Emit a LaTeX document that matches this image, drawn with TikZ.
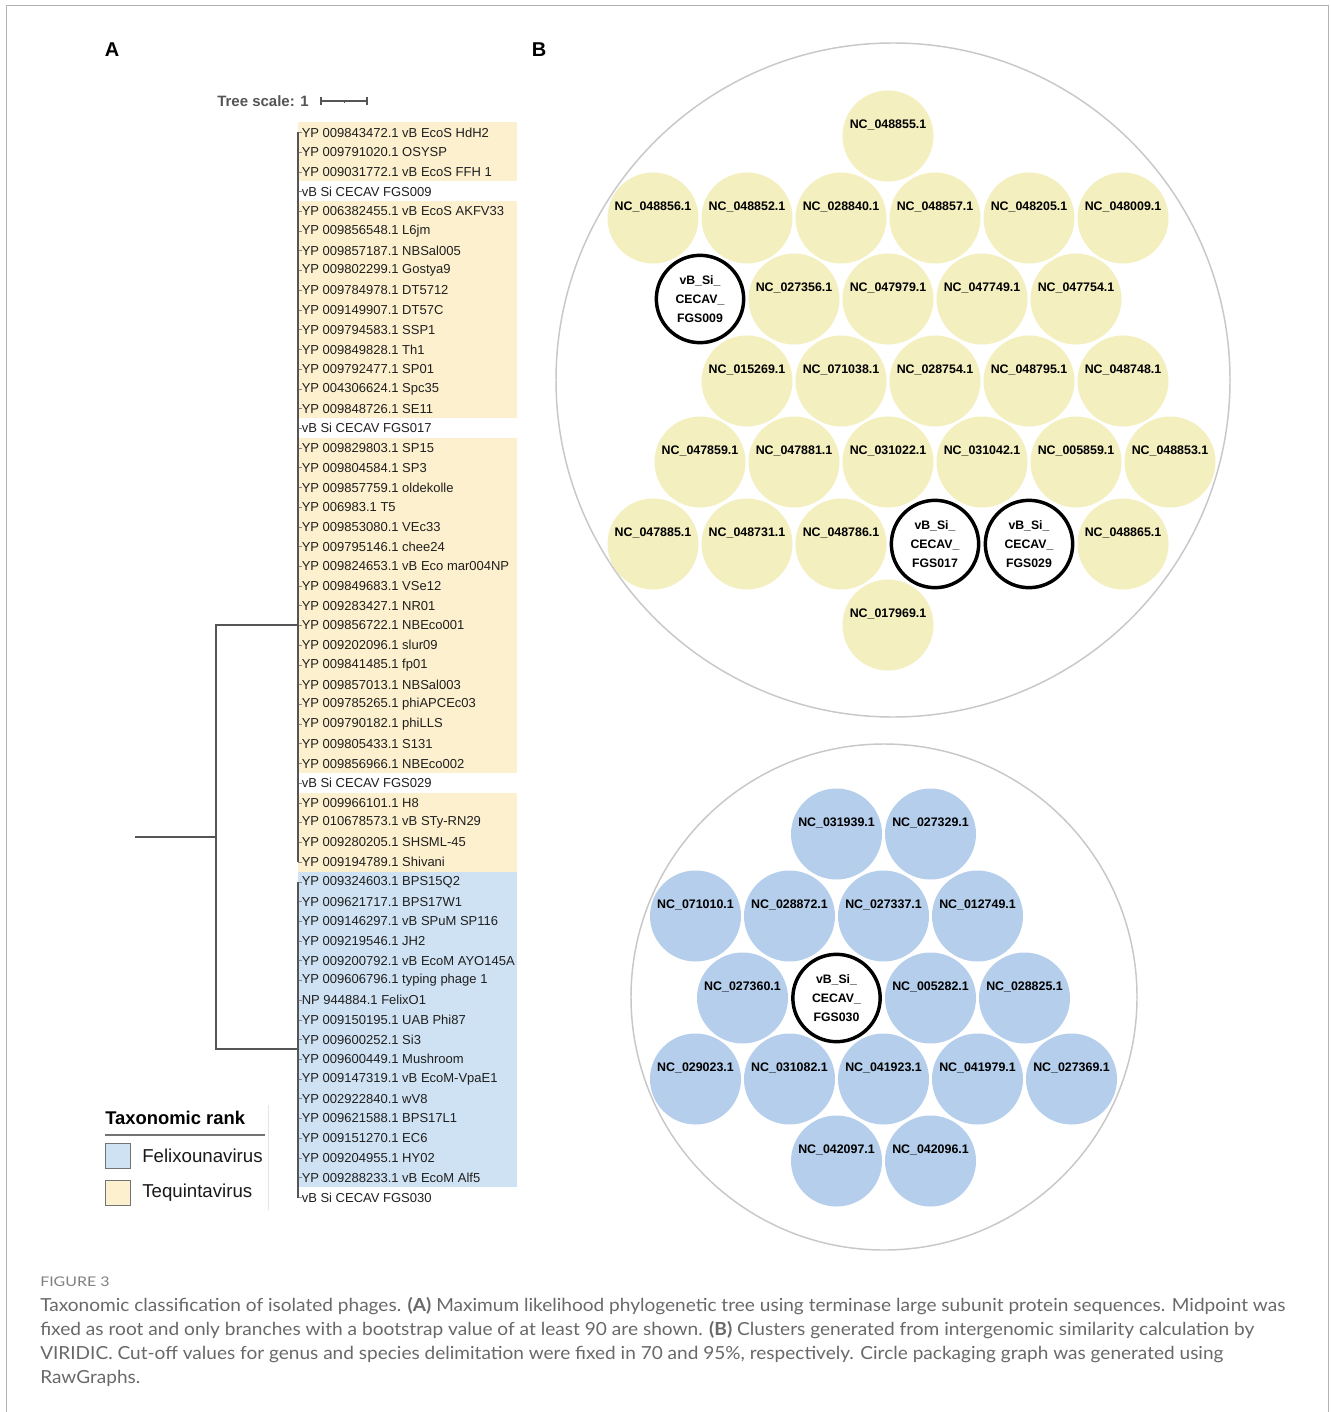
\documentclass[tikz,border=0pt]{standalone}
\usepackage{fontspec}
\usepackage{graphicx}
\setmainfont{Liberation Sans}
\newfontfamily\capfont{Lato}
\definecolor{teqband}{RGB}{253,240,206}
\definecolor{felband}{RGB}{207,226,243}
\definecolor{ycol}{RGB}{243,239,191}
\definecolor{bcol}{RGB}{180,206,236}
\definecolor{treecol}{RGB}{85,85,85}
\definecolor{framecol}{RGB}{178,178,178}
\definecolor{bigcol}{RGB}{200,200,200}
\definecolor{capcol}{RGB}{105,105,105}
\tikzset{
  leaf/.style={anchor=west, inner sep=0pt, font=\fontsize{9.75}{11}\selectfont, text=black!88},
  tree/.style={draw=treecol, line width=0.9pt},
  ycirc/.style={circle, fill=ycol, minimum size=68.25pt, inner sep=0pt},
  bcirc/.style={circle, fill=bcol, minimum size=68.25pt, inner sep=0pt},
  hcirc/.style={circle, fill=white, draw=black, line width=2.6pt, minimum size=65.5pt, inner sep=0pt},
  nclab/.style={inner sep=0pt, font=\bfseries\fontsize{9.3}{11}\selectfont},
  hlab/.style={inner sep=0pt, align=center, font=\bfseries\fontsize{9.2}{14.25}\selectfont},
  bigc/.style={draw=bigcol, line width=1.1pt},
  panel/.style={inner sep=0pt, font=\bfseries\fontsize{15}{18}\selectfont},
  capline/.style={anchor=base west, inner sep=0pt, text=capcol, font=\capfont\fontsize{13.5}{16}\selectfont},
  legtext/.style={anchor=west, inner sep=0pt, font=\fontsize{14}{16}\selectfont, text=black!90},
  legbox/.style={draw=black!55, line width=0.5pt}
}
\newcommand\yc[4]{\node[ycirc] (#1) at (#2,#3) {}; \node[nclab] (#1t) at (#2,#3-11) {NC\_#4.1};}
\newcommand\bc[4]{\node[bcirc] (#1) at (#2,#3) {}; \node[nclab] (#1t) at (#2,#3-11) {NC\_#4.1};}
\newcommand\hc[4]{\node[hcirc] (#1) at (#2,#3) {}; \node[hlab] (#1t) at (#2,#3+0.5) {vB\_Si\_\\CECAV\_\\#4};}
\begin{document}
\begin{tikzpicture}[x=0.75pt,y=-0.75pt]
\useasboundingbox (0,0) rectangle (1330,1412);
\fill[white] (0,0) rectangle (1330,1412);
% frame
\draw[framecol, line width=1.1pt] (6.5,1412) -- (6.5,5.5) -- (1328.5,5.5) -- (1328.5,1412);

% panel labels
\node[panel] (pA) at (112,50) {A};
\node[panel] (pB) at (539,50) {B};

% tree scale
\node[inner sep=0pt, font=\bfseries\fontsize{11.25}{13}\selectfont, text=treecol, anchor=east] (ts) at (309,101) {Tree scale: 1};
\coordinate (sb1) at (321,101);
\coordinate (sb2) at (367,101);
\draw[tree, line width=0.8pt] (sb1) -- (sb2);
\draw[tree, line width=0.8pt] (321,97) -- (321,105);
\draw[tree, line width=0.8pt] (367,97) -- (367,105);
\draw[tree, line width=0.6pt] (344,101) -- (344,103.5);

% bands
\fill[teqband] (298,122.1) rectangle (517,181.3);
\fill[teqband] (298,201.0) rectangle (517,418.0);
\fill[teqband] (298,437.7) rectangle (517,772.9);
\fill[teqband] (298,792.6) rectangle (517,871.5);
\fill[felband] (298,871.5) rectangle (517,1187.1);

% leaves
\foreach \lab [count=\i] in {
YP 009843472.1 vB EcoS HdH2,
YP 009791020.1 OSYSP,
YP 009031772.1 vB EcoS FFH 1,
vB Si CECAV FGS009,
YP 006382455.1 vB EcoS AKFV33,
YP 009856548.1 L6jm,
YP 009857187.1 NBSal005,
YP 009802299.1 Gostya9,
YP 009784978.1 DT5712,
YP 009149907.1 DT57C,
YP 009794583.1 SSP1,
YP 009849828.1 Th1,
YP 009792477.1 SP01,
YP 004306624.1 Spc35,
YP 009848726.1 SE11,
vB Si CECAV FGS017,
YP 009829803.1 SP15,
YP 009804584.1 SP3,
YP 009857759.1 oldekolle,
YP 006983.1 T5,
YP 009853080.1 VEc33,
YP 009795146.1 chee24,
YP 009824653.1 vB Eco mar004NP,
YP 009849683.1 VSe12,
YP 009283427.1 NR01,
YP 009856722.1 NBEco001,
YP 009202096.1 slur09,
YP 009841485.1 fp01,
YP 009857013.1 NBSal003,
YP 009785265.1 phiAPCEc03,
YP 009790182.1 phiLLS,
YP 009805433.1 S131,
YP 009856966.1 NBEco002,
vB Si CECAV FGS029,
YP 009966101.1 H8,
YP 010678573.1 vB STy-RN29,
YP 009280205.1 SHSML-45,
YP 009194789.1 Shivani,
YP 009324603.1 BPS15Q2,
YP 009621717.1 BPS17W1,
YP 009146297.1 vB SPuM SP116,
YP 009219546.1 JH2,
YP 009200792.1 vB EcoM AYO145A,
YP 009606796.1 typing phage 1,
NP 944884.1 FelixO1,
YP 009150195.1 UAB Phi87,
YP 009600252.1 Si3,
YP 009600449.1 Mushroom,
YP 009147319.1 vB EcoM-VpaE1,
YP 002922840.1 wV8,
YP 009621588.1 BPS17L1,
YP 009151270.1 EC6,
YP 009204955.1 HY02,
YP 009288233.1 vB EcoM Alf5,
vB Si CECAV FGS030}{
  \pgfmathsetmacro\yy{132.5+(\i-1)*19.72}
  \node[leaf] (leaf\i) at (301.5,\yy) {\lab};
  \draw[draw=treecol!70, line width=0.5pt] (leaf\i.west) -- ++(-3.5,0);
}

% tree branches
\coordinate (root) at (135,837);
\coordinate (rootn) at (216,837);
\coordinate (nT) at (216,625);
\coordinate (nB) at (216,1049);
\coordinate (cT) at (298,625);
\coordinate (cB) at (298,1049);
\coordinate (tTop) at (298,132);
\coordinate (tBot) at (298,862);
\coordinate (bTop) at (298,882);
\coordinate (bBot) at (298,1197.5);
\draw[tree] (root) -- (rootn);
\draw[tree] (cT) -- (nT) -- (nB) -- (cB);
\draw[tree] (tTop) -- (tBot);
\draw[tree] (bTop) -- (bBot);

% legend
\node[inner sep=0pt, anchor=west, font=\bfseries\fontsize{13.8}{16}\selectfont] (legt) at (105,1118) {Taxonomic rank};
\draw[black!55, line width=1.1pt] (105,1135) -- (265,1135);
\draw[black!10, line width=0.6pt] (268,1105) -- (268,1210);
\draw[legbox, fill=felband] (105,1143) rectangle (130,1168);
\draw[legbox, fill=teqband] (105,1180) rectangle (130,1205);
\node[legtext] (legf) at (142,1155.5) {Felixounavirus};
\node[legtext] (legq) at (142,1192.5) {Tequintavirus};

% panel B big circles
\draw[bigc] (893,380) circle[radius=337];
\draw[bigc] (884,997) circle[radius=253];

% upper cluster
\yc{u0}{888}{136}{048855}
\yc{u1}{653}{218}{048856}
\yc{u2}{747}{218}{048852}
\yc{u3}{841}{218}{028840}
\yc{u4}{935}{218}{048857}
\yc{u5}{1029}{218}{048205}
\yc{u6}{1123}{218}{048009}
\hc{h1}{700}{299}{FGS009}
\yc{u7}{794}{299}{027356}
\yc{u8}{888}{299}{047979}
\yc{u9}{982}{299}{047749}
\yc{u10}{1076}{299}{047754}
\yc{u11}{747}{381}{015269}
\yc{u12}{841}{381}{071038}
\yc{u13}{935}{381}{028754}
\yc{u14}{1029}{381}{048795}
\yc{u15}{1123}{381}{048748}
\yc{u16}{700}{462}{047859}
\yc{u17}{794}{462}{047881}
\yc{u18}{888}{462}{031022}
\yc{u19}{982}{462}{031042}
\yc{u20}{1076}{462}{005859}
\yc{u21}{1170}{462}{048853}
\yc{u22}{653}{544}{047885}
\yc{u23}{747}{544}{048731}
\yc{u24}{841}{544}{048786}
\hc{h2}{935}{544}{FGS017}
\hc{h3}{1029}{544}{FGS029}
\yc{u25}{1123}{544}{048865}
\yc{u26}{888}{625}{017969}

% lower cluster
\bc{l1}{836.5}{834}{031939}
\bc{l2}{930.5}{834}{027329}
\bc{l3}{695.5}{916}{071010}
\bc{l4}{789.5}{916}{028872}
\bc{l5}{883.5}{916}{027337}
\bc{l6}{977.5}{916}{012749}
\bc{l7}{742.5}{998}{027360}
\hc{h4}{836.5}{998}{FGS030}
\bc{l8}{930.5}{998}{005282}
\bc{l9}{1024.5}{998}{028825}
\bc{l10}{695.5}{1079}{029023}
\bc{l11}{789.5}{1079}{031082}
\bc{l12}{883.5}{1079}{041923}
\bc{l13}{977.5}{1079}{041979}
\bc{l14}{1071.5}{1079}{027369}
\bc{l15}{836.5}{1161}{042097}
\bc{l16}{930.5}{1161}{042096}

% caption
\node[capline, font=\capfont\fontsize{10}{12}\selectfont, text=black!50] (fig) at (40,1286) {\resizebox{52pt}{\height}{FIGURE 3}};
\node[capline] (cap1) at (40,1311) {\resizebox{933.75pt}{\height}{Taxonomic classification of isolated phages. \textbf{(A)} Maximum likelihood phylogenetic tree using terminase large subunit protein sequences. Midpoint was}};
\node[capline] (cap2) at (40,1335) {\resizebox{910.5pt}{\height}{fixed as root and only branches with a bootstrap value of at least 90 are shown. \textbf{(B)} Clusters generated from intergenomic similarity calculation by}};
\node[capline] (cap3) at (40,1359) {\resizebox{887.25pt}{\height}{VIRIDIC. Cut-off values for genus and species delimitation were fixed in 70 and 95\%, respectively. Circle packaging graph was generated using}};
\node[capline] (cap4) at (40,1383) {\resizebox{75pt}{\height}{RawGraphs.}};
\end{tikzpicture}
\end{document}
